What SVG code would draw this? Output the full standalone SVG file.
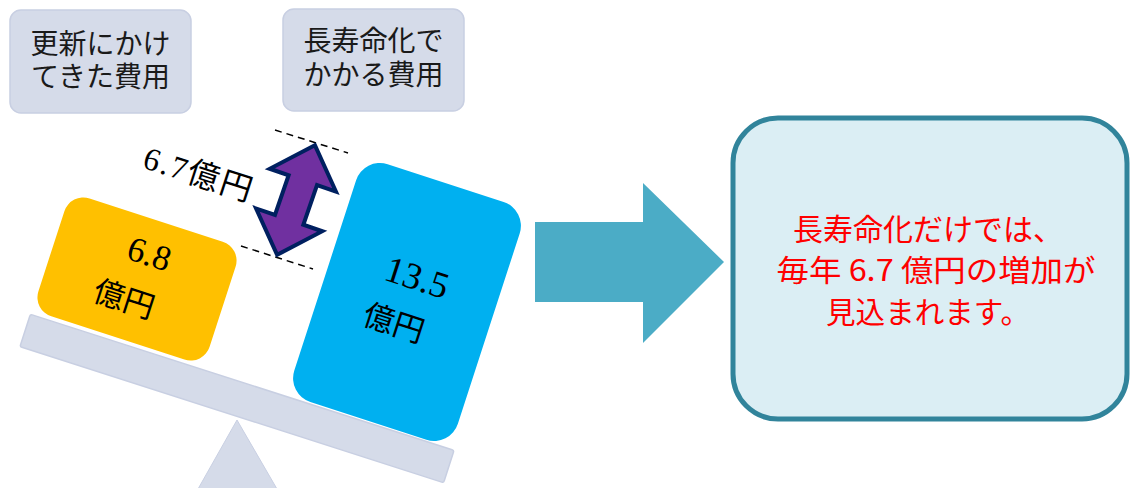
<svg xmlns="http://www.w3.org/2000/svg" width="1131" height="488" viewBox="0 0 1131 488">
<style>
.lbl{fill:#d5dbe9;stroke:#c8cfe2;stroke-width:1.5}
.lt{font-family:"Noto Sans CJK JP",sans-serif;font-size:28px;fill:#1a1a1a;text-anchor:middle}
.num{font-family:"Liberation Serif","Noto Sans CJK JP",serif;fill:#000;text-anchor:middle}
.red{font-family:"Noto Sans CJK JP",sans-serif;font-size:30px;fill:#ff0000;text-anchor:middle}
.dash{stroke:#000;stroke-width:1.5;stroke-dasharray:7 5;fill:none}
</style>
<rect width="1131" height="488" fill="#fff"/>
<g id="label-left">
<rect class="lbl" x="10" y="10" width="181" height="103" rx="11"/>
<text class="lt" x="100.5" y="54">更新にかけ</text>
<text class="lt" x="100.5" y="87">てきた費用</text>
</g>
<g id="label-right">
<rect class="lbl" x="283" y="9" width="181" height="102" rx="11"/>
<text class="lt" x="373.5" y="51">長寿命化で</text>
<text class="lt" x="373.5" y="85">かかる費用</text>
</g>
<g id="fulcrum">
<polygon points="237,420 198,489 277,489" fill="#d5dbe9" stroke="#c8cfe2" stroke-width="1"/>
</g>
<g id="beam">
<rect x="-222.5" y="-17" width="445" height="34" rx="2" fill="#d5dbe9" stroke="#c8cfe2" stroke-width="1.5" transform="translate(237,398.5) rotate(17.8)"/>
</g>
<g id="box-orange" transform="translate(137,279) rotate(18)">
<rect x="-90" y="-62" width="180" height="124" rx="20" fill="#ffc000"/>
<text class="num" x="4" y="-16" font-size="35">6.8</text>
<text class="num" x="-6" y="34" font-size="31">億円</text>
</g>
<g id="box-blue" transform="translate(407,302) rotate(18)">
<rect x="-86" y="-125" width="172" height="250" rx="25" fill="#00b0f0"/>
<text class="num" x="2" y="-14" font-size="37">13.5</text>
<text class="num" x="-6" y="35" font-size="31">億円</text>
</g>
<g id="connectors">
<line class="dash" x1="275" y1="130" x2="348" y2="153"/>
<line class="dash" x1="241" y1="246" x2="313" y2="269"/>
<polygon points="0,-58 35,-21 15,-21 15,21 35,21 0,58 -35,21 -15,21 -15,-21 -35,-21" fill="#7030a0" stroke="#002060" stroke-width="4" stroke-linejoin="miter" transform="translate(296,200) rotate(19)"/>
<polygon points="535,222 643,222 643,183 724,262 643,343 643,302 535,302" fill="#4bacc6"/>
</g>
<g id="diff-label" transform="translate(198,174) rotate(18)">
<text class="num" x="0" y="11" font-size="32" textLength="112" lengthAdjust="spacing">6.7億円</text>
</g>
<g id="result">
<rect x="733" y="118" width="394" height="301" rx="45" fill="#dbeef4" stroke="#31849b" stroke-width="5"/>
<text class="red" x="928" y="240" textLength="270" lengthAdjust="spacingAndGlyphs">長寿命化だけでは、</text>
<text class="red" x="936" y="281" textLength="319" lengthAdjust="spacingAndGlyphs">毎年 6.7 億円の増加が</text>
<text class="red" x="928" y="323" textLength="204" lengthAdjust="spacingAndGlyphs">見込まれます。</text>
</g>
</svg>
